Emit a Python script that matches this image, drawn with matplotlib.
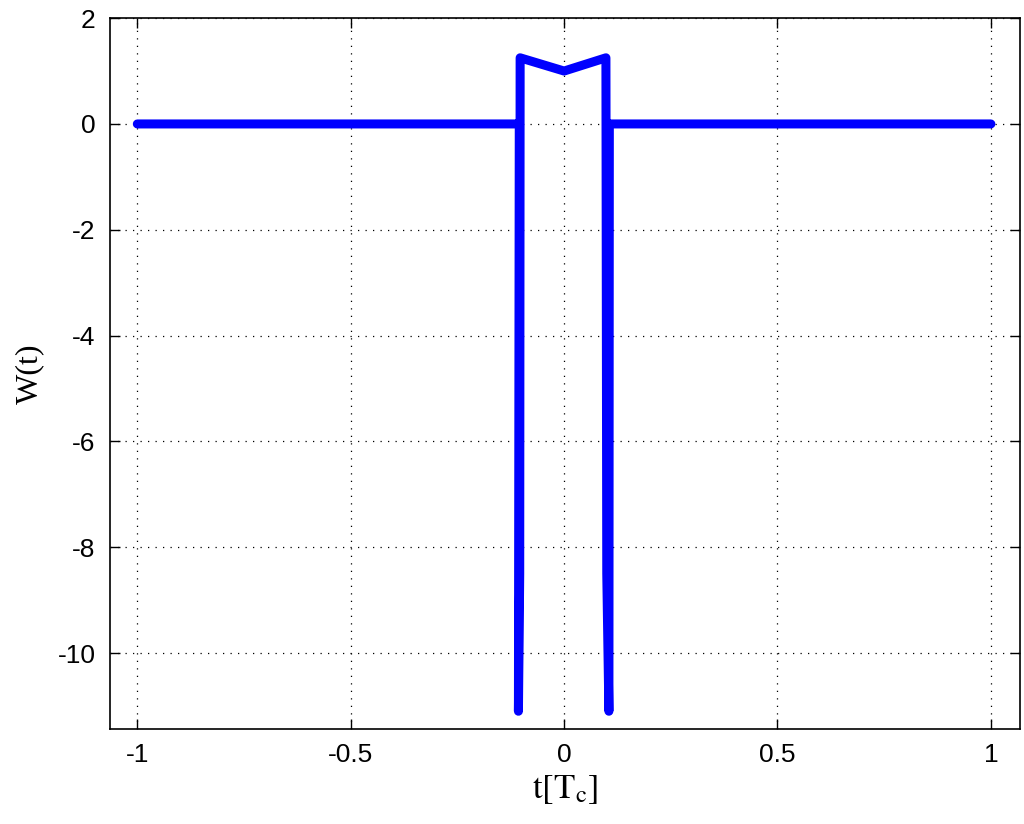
import numpy as np
from matplotlib import pyplot as plt

plt.rcParams['mathtext.fontset'] = 'stix'
plt.rcParams['font.serif'] = ['Liberation Serif', 'Times New Roman', 'DejaVu Serif']
plt.rcParams['font.sans-serif'] = ['Liberation Sans', 'Arial', 'DejaVu Sans']

# W(t) samples
t = [-1.0, -0.105, -0.107, -0.104, -0.103, 0.0, 0.098, 0.100, 0.105, 0.106, 1.0]
w = [0.0, 0.0, -11.1, -8.5, 1.25, 1.0, 1.25, -8.5, -11.1, 0.0, 0.0]

xticks = [-1, -0.5, 0, 0.5, 1]
yticks = [-10, -8, -6, -4, -2, 0, 2]

fig = plt.figure(figsize=(10.24, 8.24), dpi=100)
ax = fig.add_axes([0.107, 0.115, 0.889, 0.863])

ax.plot(t, w, color='#0000ff', lw=6.5, solid_joinstyle='round', solid_capstyle='round')

ax.set_xlim(-1.065, 1.068)
ax.set_ylim(-11.44, 2)
ax.set_xticks(xticks)
ax.set_yticks(yticks)
ax.set_xticklabels(['-1', '-0.5', '0', '0.5', '1'])
ax.set_yticklabels(['-10', '-8', '-6', '-4', '-2', '0', '2'])
ax.grid(True, color='black', linestyle=(0, (1, 5)), lw=0.9)
ax.tick_params(direction='in', length=7, width=1, top=True, right=True,
               labelsize=19, pad=10)
for lab in ax.get_xticklabels() + ax.get_yticklabels():
    lab.set_family('sans-serif')
for s in ax.spines.values():
    s.set_linewidth(1.2)

ax.set_xlabel(r'$\mathrm{t[T}_{\mathrm{c}}\mathrm{]}$', fontsize=25, labelpad=4)
ax.set_ylabel('W(t)', fontsize=23, family='serif', labelpad=10)

fig.savefig('out.png')
